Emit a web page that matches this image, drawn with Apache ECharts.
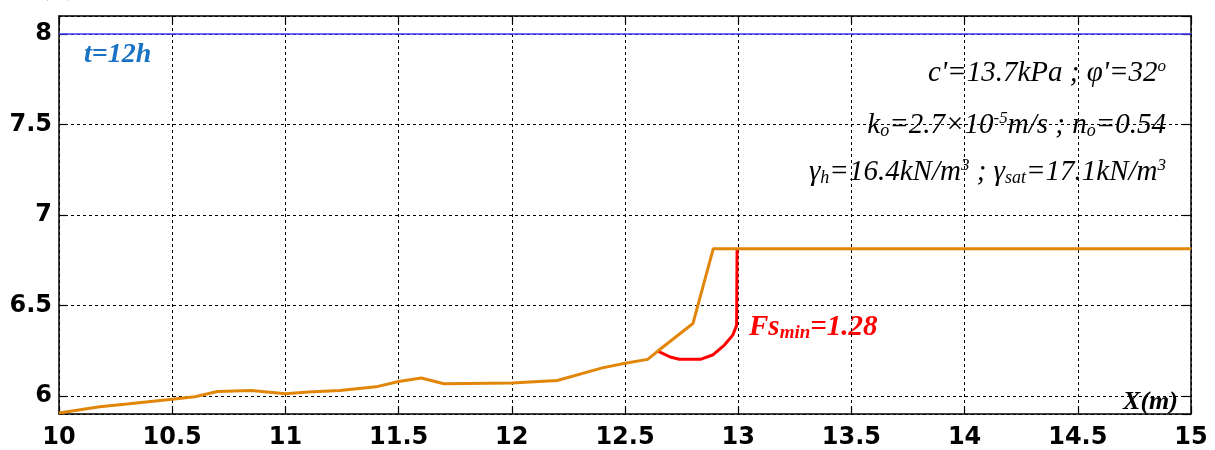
<!DOCTYPE html>
<html>
<head>
<meta charset="utf-8">
<script src="https://cdn.jsdelivr.net/npm/echarts@6/dist/echarts.min.js"></script>
<style>
html, body { margin: 0; padding: 0; background: #fff; }
#chart { width: 1215px; height: 450px; }
</style>
</head>
<body>
<div id="chart"></div>
<script>
// water table / slope surface profile at t=12h
const slopeProfile = [
    [10.0, 5.905], [10.18, 5.94], [10.3, 5.955], [10.5, 5.982], [10.6, 5.995],
    [10.7, 6.024], [10.85, 6.03], [11.0, 6.012], [11.1, 6.022], [11.24, 6.03],
    [11.4, 6.05], [11.5, 6.08], [11.6, 6.099], [11.7, 6.067], [12.0, 6.072],
    [12.2, 6.085], [12.4, 6.155], [12.5, 6.18], [12.6, 6.202], [12.645, 6.248],
    [12.8, 6.40], [12.89, 6.814], [15.0, 6.814]
];
const slipSurface = [
    [12.645, 6.248], [12.7, 6.215], [12.74, 6.203], [12.836, 6.203], [12.887, 6.226],
    [12.939, 6.281], [12.976, 6.336], [12.993, 6.39], [12.995, 6.814]
];
const waterLevel = [[10, 8], [15, 8]];

const xRange = [10, 15];
const yRange = [5.9, 8.1];

const chart = echarts.init(document.getElementById('chart'));

const serif = '"Liberation Serif", "DejaVu Serif", serif';
const sans = '"DejaVu Sans", Arial, sans-serif';

const gridLine = { show: true, lineStyle: { color: '#000', type: [3, 3], width: 1 } };
const frameLine = { show: true, onZero: false, lineStyle: { color: '#000', width: 1.5 } };
const tickIn = { show: true, inside: true, length: 8, lineStyle: { color: '#000', width: 1.2 } };

const main = { fontSize: 29, fontStyle: 'italic', fontFamily: serif, fill: '#000', lineHeight: 30 };
const sub = { fontSize: 18, fontStyle: 'italic', fontFamily: serif, fill: '#000', verticalAlign: 'bottom', lineHeight: 18, padding: [14, 0, 0, 0] };
const sup = { fontSize: 17, fontStyle: 'italic', fontFamily: serif, fill: '#000', verticalAlign: 'top', lineHeight: 17, padding: [0, 0, 20, 0] };

let option = {
    animation: false,
    grid: { left: 59, right: 24, top: 16, bottom: 33 },
    xAxis: [
        {
            type: 'value', min: xRange[0], max: xRange[1], interval: 0.5,
            axisLine: frameLine, axisTick: tickIn, splitLine: gridLine,
            axisLabel: { color: '#000', fontSize: 24, fontWeight: 'bold', fontFamily: sans, margin: 12 }
        },
        {
            type: 'value', position: 'top', min: xRange[0], max: xRange[1], interval: 0.5,
            axisLine: frameLine, axisTick: tickIn, splitLine: { show: false }, axisLabel: { show: false }
        }
    ],
    yAxis: [
        {
            type: 'value', min: yRange[0], max: yRange[1], minInterval: 0.5, maxInterval: 0.5, splitNumber: 5,
            axisLine: frameLine, axisTick: tickIn, splitLine: gridLine,
            axisLabel: {
                color: '#000', fontSize: 24, fontWeight: 'bold', fontFamily: sans, margin: 7,
                showMinLabel: false, showMaxLabel: false
            }
        },
        {
            type: 'value', position: 'right', min: yRange[0], max: yRange[1], minInterval: 0.5, maxInterval: 0.5, splitNumber: 5,
            axisLine: frameLine, axisTick: tickIn, splitLine: { show: false }, axisLabel: { show: false }
        }
    ],
    series: [
        {
            name: 'level', type: 'line', data: waterLevel, showSymbol: false,
            lineStyle: { color: '#3a3af2', width: 1.5 }, z: 3
        },
        {
            name: 'slip', type: 'line', data: slipSurface, showSymbol: false,
            lineStyle: { color: '#ff0000', width: 3 }, z: 4
        },
        {
            name: 'profile', type: 'line', data: slopeProfile, showSymbol: false,
            lineStyle: { color: '#e2860a', width: 3 }, z: 5
        }
    ],
    graphic: [
        {
            type: 'text', left: 41, top: -21,
            style: { text: '(m)', font: 'bold 22px ' + serif, fill: '#000' }
        },
        {
            type: 'text', x: 84, y: 55,
            style: { text: 't=12h', font: 'italic bold 28px ' + serif, fill: '#1a72c4', verticalAlign: 'middle' }
        },
        {
            type: 'text', x: 1166, y: 73,
            style: {
                text: '{m|c\'=13.7kPa ; φ\'=32}{p|o}',
                align: 'right', verticalAlign: 'middle',
                rich: { m: main, p: sup }
            }
        },
        {
            type: 'text', x: 1166, y: 125,
            style: {
                text: '{m|k}{s|o}{m|=2.7×10}{p|-5}{m|m/s ; n}{s|o}{m|=0.54}',
                align: 'right', verticalAlign: 'middle',
                rich: { m: main, s: sub, p: sup }
            }
        },
        {
            type: 'text', x: 1166, y: 172,
            style: {
                text: '{m|γ}{s|h}{m|=16.4kN/m}{p|3}{m| ; γ}{s|sat}{m|=17.1kN/m}{p|3}',
                align: 'right', verticalAlign: 'middle',
                rich: { m: main, s: sub, p: sup }
            }
        },
        {
            type: 'text', x: 749, y: 328,
            style: {
                text: '{m|Fs}{s|min}{m|=1.28}',
                verticalAlign: 'middle',
                rich: {
                    m: { fontSize: 29, fontWeight: 'bold', fontStyle: 'italic', fontFamily: serif, fill: '#ff0000', lineHeight: 30 },
                    s: { fontSize: 19, fontWeight: 'bold', fontStyle: 'italic', fontFamily: serif, fill: '#ff0000', verticalAlign: 'bottom', lineHeight: 19, padding: [14, 0, 0, 0] }
                }
            }
        },
        {
            type: 'text', x: 1178, y: 402,
            style: { text: 'X(m)', font: 'italic bold 26px ' + serif, fill: '#000', align: 'right', verticalAlign: 'middle' }
        }
    ]
};

chart.setOption(option);
window.addEventListener('resize', () => {
    chart.resize();
});
</script>
</body>
</html>
